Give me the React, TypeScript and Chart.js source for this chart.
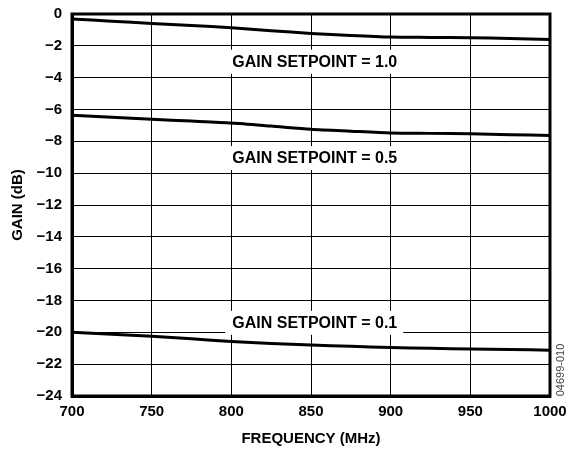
import React, { useEffect, useRef } from "react";
import { Chart, registerables } from "chart.js";

Chart.register(...registerables);

const frequencies = [700, 725, 750, 775, 800, 825, 850, 875, 900, 925, 950, 975, 1000];
const gainSetpoint10 = [-0.32, -0.45, -0.59, -0.72, -0.86, -1.05, -1.22, -1.35, -1.45, -1.47, -1.49, -1.54, -1.6];
const gainSetpoint05 = [-6.36, -6.49, -6.62, -6.73, -6.85, -7.04, -7.24, -7.36, -7.47, -7.5, -7.53, -7.58, -7.63];
const gainSetpoint01 = [-20.0, -20.12, -20.25, -20.4, -20.58, -20.7, -20.8, -20.88, -20.96, -21.0, -21.05, -21.08, -21.12];

const labelTexts = ["GAIN SETPOINT = 1.0", "GAIN SETPOINT = 0.5", "GAIN SETPOINT = 0.1"];
const labelFreq = [800, 800, 800];
const labelGain = [-3.0, -9.05, -19.4];

const figureId = "04699-010";

const FONT = "'Liberation Sans', Arial, Helvetica, sans-serif";

export default function App() {
  const ref = useRef<HTMLCanvasElement | null>(null);

  useEffect(() => {
    if (!ref.current) return;
    const annotPlugin = {
      id: "annot",
      beforeDatasetsDraw(chart: any) {
        const ctx = chart.ctx;
        const xs = chart.scales.x;
        const ys = chart.scales.y;
        ctx.save();
        ctx.font = `bold 16px ${FONT}`;
        ctx.textBaseline = "middle";
        ctx.textAlign = "left";
        for (let i = 0; i < labelTexts.length; i++) {
          const px = xs.getPixelForValue(labelFreq[i]);
          const py = ys.getPixelForValue(labelGain[i]);
          const w = ctx.measureText(labelTexts[i]).width;
          ctx.fillStyle = "#ffffff";
          ctx.fillRect(px - 6, py - 12, w + 13, 24);
          ctx.fillStyle = "#000000";
          ctx.fillText(labelTexts[i], px + 1, py + 1);
        }
        ctx.restore();
      },
      afterDatasetsDraw(chart: any) {
        const ctx = chart.ctx;
        const a = chart.chartArea;
        ctx.save();
        ctx.strokeStyle = "#000";
        ctx.lineWidth = 3;
        ctx.strokeRect(a.left, a.top, a.right - a.left, a.bottom - a.top);
        ctx.restore();
      },
      afterDraw(chart: any) {
        const ctx = chart.ctx;
        const a = chart.chartArea;
        ctx.save();
        ctx.translate(a.right + 11, a.bottom - 26);
        ctx.rotate(-Math.PI / 2);
        ctx.font = `11px ${FONT}`;
        ctx.fillStyle = "#444";
        ctx.textAlign = "center";
        ctx.textBaseline = "middle";
        ctx.fillText(figureId, 0, 0);
        ctx.restore();
      },
    };

    const ds = (data: number[]) => ({
      data: frequencies.map((f, i) => ({ x: f, y: data[i] })),
      borderColor: "#000",
      borderWidth: 3,
      pointRadius: 0,
      tension: 0.25,
      fill: false,
    });

    const chart = new Chart(ref.current, {
      type: "line",
      data: {
        datasets: [ds(gainSetpoint10), ds(gainSetpoint05), ds(gainSetpoint01)],
      },
      options: {
        responsive: false,
        animation: false,
        layout: { padding: { top: 14, right: 18, left: 0, bottom: 0 } },
        plugins: {
          legend: { display: false },
          tooltip: { enabled: false },
        },
        scales: {
          x: {
            type: "linear",
            min: 700,
            max: 1000,
            ticks: {
              stepSize: 50,
              color: "#000",
              font: { family: FONT, size: 15, weight: "bold" },
              padding: 7,
              maxRotation: 0,
              callback: (v: any) => String(v),
            },
            grid: { color: "#000", lineWidth: 1, drawTicks: false },
            border: { display: true, color: "#000", width: 3 },
            title: {
              display: true,
              text: "FREQUENCY (MHz)",
              color: "#000",
              font: { family: FONT, size: 15, weight: "bold" },
              padding: { top: 0, bottom: 2 },
            },
            afterFit(scale: any) {
              scale.height = 54;
              scale.paddingLeft = 0;
              scale.paddingRight = 0;
            },
          },
          y: {
            min: -24,
            max: 0,
            ticks: {
              stepSize: 2,
              color: "#000",
              font: { family: FONT, size: 15, weight: "bold" },
              padding: 10,
              callback: (v: any) => (Number(v) === 0 ? "0" : "\u2212" + Math.abs(Number(v))),
            },
            grid: { color: "#000", lineWidth: 1, drawTicks: false },
            border: { display: true, color: "#000", width: 3 },
            title: {
              display: true,
              text: "GAIN (dB)",
              color: "#000",
              font: { family: FONT, size: 15, weight: "bold" },
              padding: { top: 9, bottom: 0 },
            },
            afterFit(scale: any) {
              scale.width = 72;
              scale.paddingTop = 0;
              scale.paddingBottom = 0;
            },
          },
        },
      },
      plugins: [annotPlugin],
    } as any);

    return () => chart.destroy();
  }, []);

  return (
    <div style={{ position: "absolute", left: 0, top: 0, width: 568, height: 450, background: "#fff" }}>
      <canvas ref={ref} width={568} height={450} style={{ width: 568, height: 450, display: "block" }} />
    </div>
  );
}
